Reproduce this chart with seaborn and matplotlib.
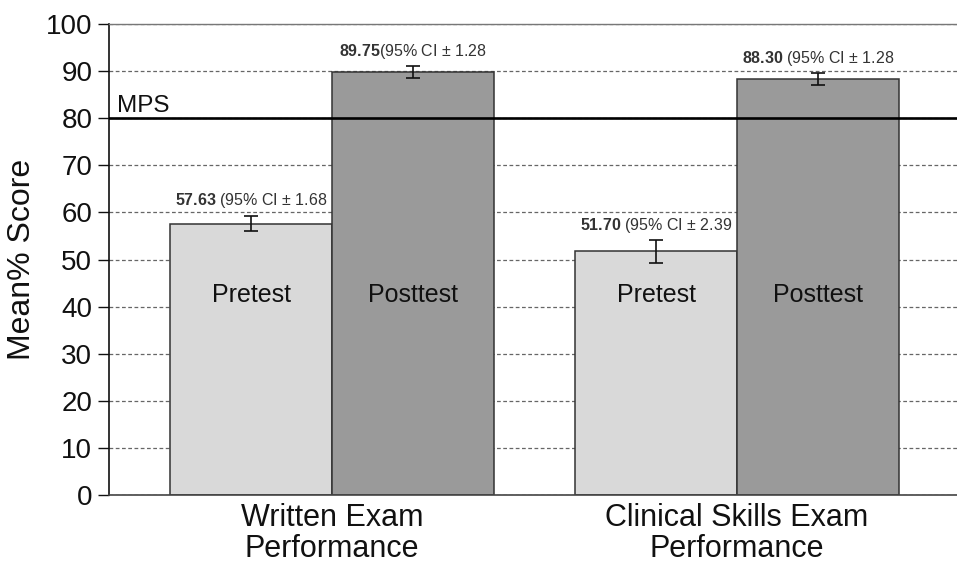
import matplotlib
matplotlib.use("Agg")
import matplotlib.pyplot as plt
import pandas as pd
import seaborn as sns

exams = ["Written Exam\nPerformance", "Clinical Skills Exam\nPerformance"]
phases = ["Pretest", "Posttest"]
pre_means = [57.63, 51.70]
post_means = [89.75, 88.30]
pre_ci = [1.68, 2.39]
post_ci = [1.28, 1.28]
label_sep = [[" ", " "], ["", " "]]  # the 89.75 label has no space in the source
mps = 80
yticks = list(range(0, 101, 10))

df = pd.DataFrame({
    "exam": exams * 2,
    "phase": [phases[0]] * 2 + [phases[1]] * 2,
    "score": pre_means + post_means,
})
cis = [pre_ci, post_ci]
means = [pre_means, post_means]

sns.set_style("white")
plt.rcParams["font.family"] = ["Liberation Sans", "DejaVu Sans"]
plt.rcParams["mathtext.fontset"] = "custom"
plt.rcParams["mathtext.rm"] = "Liberation Sans"
plt.rcParams["mathtext.bf"] = "Liberation Sans:bold"

fig = plt.figure(figsize=(9.57, 5.69), dpi=100)
ax = fig.add_axes([109 / 957, 74 / 569, 1 - 109 / 957, (495 - 24) / 569])

sns.barplot(
    data=df, x="exam", y="score", hue="phase", order=exams, hue_order=phases,
    palette=["#d9d9d9", "#9a9a9a"], width=0.8, errorbar=None,
    edgecolor="#333333", linewidth=1.1, legend=False, ax=ax, zorder=2,
)

bar_groups = list(ax.containers)
for h, cont in enumerate(bar_groups):
    for i, bar in enumerate(cont):
        cx = bar.get_x() + bar.get_width() / 2
        top = bar.get_height()
        ax.errorbar(cx, top, yerr=cis[h][i], fmt="none", ecolor="#111111",
                    elinewidth=1.2, capsize=5, capthick=1.2, zorder=4)
        ax.text(cx, top + cis[h][i] + 2.2,
                r"$\mathbf{%.2f}$%s(95%% CI ± %.2f" % (means[h][i], label_sep[h][i], cis[h][i]),
                ha="center", va="baseline", fontsize=11.5, color="#333333", zorder=5)
        ax.text(cx, 42.5, phases[h], ha="center", va="center", fontsize=18,
                color="#111111", zorder=5)

ax.axhline(mps, color="black", lw=1.9, zorder=6)
ax.text(0.01, mps + 1.4, "MPS", transform=ax.get_yaxis_transform(),
        ha="left", va="baseline", fontsize=17.5, color="#111111")

ax.set_xlim(-0.551, 1.543)
ax.set_ylim(0, 100)
ax.set_yticks(yticks)
ax.yaxis.grid(True, linestyle=(0, (3, 2)), color="#666666", lw=0.9)
ax.set_axisbelow(True)

ax.tick_params(axis="y", which="major", left=True, length=8, width=1, direction="out",
               labelsize=20, pad=4, colors="#111111")
ax.tick_params(axis="x", length=0, labelsize=22, pad=6, colors="#111111")
ax.set_xlabel("")
ax.set_ylabel("Mean% Score", fontsize=23, labelpad=6, color="#111111")

for lab in ax.get_xticklabels():
    lab.set_linespacing(1.05)

ax.spines["left"].set_color("#111111")
ax.spines["left"].set_linewidth(1.2)
ax.spines["bottom"].set_color("#444444")
ax.spines["bottom"].set_linewidth(1.2)
ax.spines["top"].set_color("#777777")
ax.spines["top"].set_linewidth(1.0)
ax.spines["right"].set_visible(False)

fig.savefig("out.png", dpi=100)
